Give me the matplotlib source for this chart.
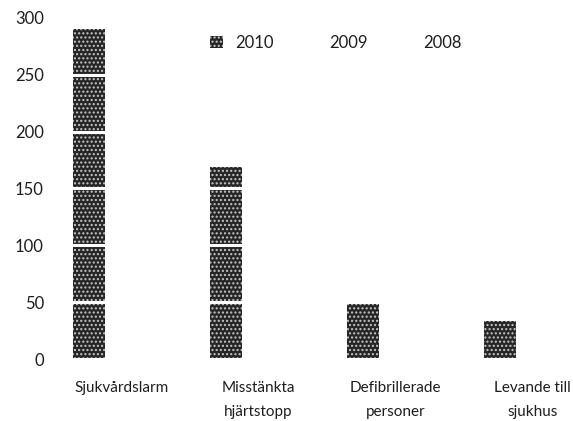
import matplotlib
matplotlib.use("Agg")
import matplotlib.pyplot as plt
from matplotlib.patches import Patch
import numpy as np

categories = ["Sjukvårdslarm", "Misstänkta\nhjärtstopp", "Defibrillerade\npersoner", "Levande till\nsjukhus"]
values_2010 = [290, 169, 48, 33]
years = ["2010", "2009", "2008"]
y_ticks = [0, 50, 100, 150, 200, 250, 300]

plt.rcParams["font.family"] = ["Lato", "DejaVu Sans"]
plt.rcParams["hatch.linewidth"] = 1.0

fig = plt.figure(figsize=(5.73, 4.21), dpi=100)
ax = fig.add_axes([55 / 573, (421 - 359) / 421, 1 - 55 / 573, (359 - 18) / 421])

x = np.arange(len(categories))
w = 0.235
bar_kw = dict(color="#262626", hatch="....", edgecolor="#c8c8c8", linewidth=0)
ax.bar(x - 0.255, values_2010, width=w, **bar_kw)

ax.set_xlim(-0.504, 3.277)
ax.set_ylim(0, 300)
ax.set_yticks(y_ticks)
ax.set_xticks(x - 0.02)
ax.set_xticklabels(categories, linespacing=1.9)
ax.tick_params(axis="both", length=0, labelsize=11, labelcolor="#1e1e1e")
ax.tick_params(axis="y", labelsize=12, pad=8)
ax.tick_params(axis="x", pad=16)
for s in ax.spines.values():
    s.set_visible(False)

# white grid lines cut through the bars
ax.yaxis.grid(True, color="white", linewidth=2.2)
ax.set_axisbelow(False)

handles = [Patch(facecolor="#262626", hatch="....", edgecolor="#c8c8c8", linewidth=0),
           Patch(facecolor="white", edgecolor="white"),
           Patch(facecolor="white", edgecolor="white")]
ax.legend(handles, years, ncol=3, frameon=False, loc="upper left",
          bbox_to_anchor=(0.27, 0.995), fontsize=12, handlelength=0.8,
          handleheight=0.8, handletextpad=0.7, columnspacing=1.85,
          labelcolor="#1e1e1e")

fig.savefig("out.png", dpi=100)
